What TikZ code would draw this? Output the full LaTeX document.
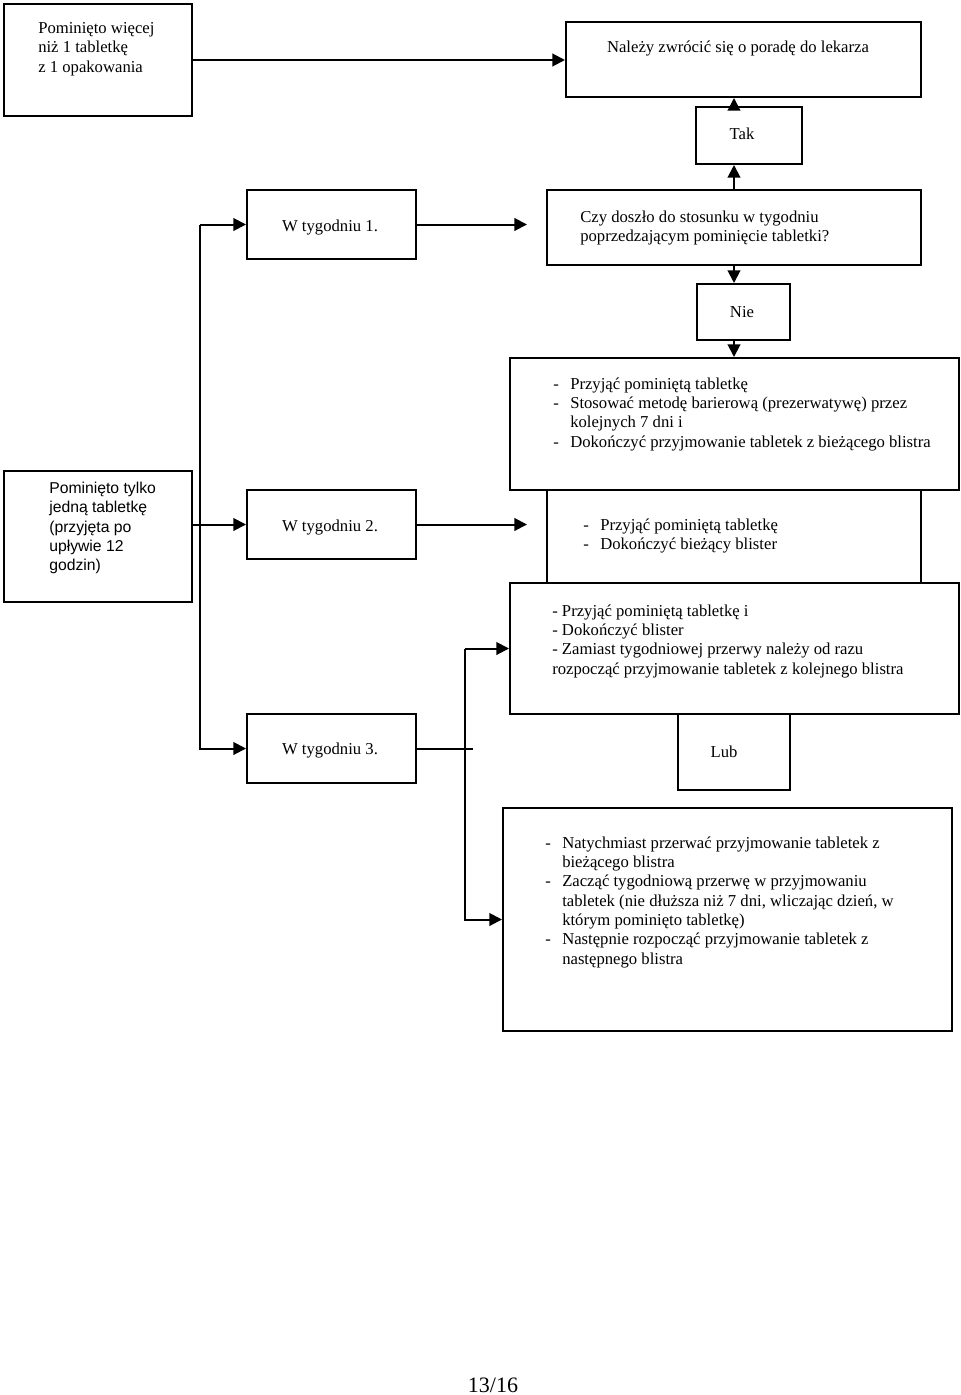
\documentclass[tikz,border=0pt]{standalone}
\usepackage{fontspec}
\setmainfont{Liberation Serif}
\newfontfamily\arialfont{Liberation Sans}
\usetikzlibrary{arrows.meta,fit,calc}

\newcommand{\dsh}{\makebox[12.75pt][l]{-}}
\newcommand{\ind}{\hspace*{12.75pt}}

\tikzset{
  box/.style={draw, line width=1.5pt, inner sep=0pt},
  txt/.style={inner sep=0pt, align=left, font=\fontsize{12.5}{14.5}\selectfont},
  arr/.style={line width=1.5pt, -{Triangle[length=9.5pt,width=9.5pt]}},
  ln/.style={line width=1.5pt}
}

\begin{document}
\begin{tikzpicture}[x=0.75pt,y=-0.75pt]
  \useasboundingbox (0,0) rectangle (960,1395);

  % boxes
  \node[box, fit={(4,4) (192,116)}] (more) {};
  \node[box, fit={(566,22) (921,97)}] (doctor) {};
  \node[box, fit={(696,107) (802,164)}] (tak) {};
  \node[box, fit={(547,190) (921,265)}] (question) {};
  \node[box, fit={(247,190) (416,259)}] (week1) {};
  \node[box, fit={(697,284) (790,340)}] (nie) {};
  \node[box, fit={(510,358) (959,490)}] (barrier) {};
  \node[box, fit={(4,471) (192,602)}] (one) {};
  \node[box, fit={(247,490) (416,559)}] (week2) {};
  \node[box, fit={(547,490) (921,583)}] (finish) {};
  \node[box, fit={(510,583) (959,714)}] (nextblister) {};
  \node[box, fit={(678,714) (790,790)}] (lub) {};
  \node[box, fit={(247,714) (416,783)}] (week3) {};
  \node[box, fit={(503,808) (952,1031)}] (pause) {};

  % texts
  \node[txt, anchor=west] at (38,49) {Pominięto więcej\\niż 1 tabletkę\\z 1 opakowania};
  \node[txt] at (738,49) {Należy zwrócić się o poradę do lekarza};
  \node[txt] at (742,134) {Tak};
  \node[txt, anchor=west] at (580,228) {Czy doszło do stosunku w tygodniu\\poprzedzającym pominięcie tabletki?};
  \node[txt] at (330,228) {W tygodniu 1.};
  \node[txt] at (742,312) {Nie};
  \node[txt, anchor=west] at (553,414) {\dsh Przyjąć pominiętą tabletkę\\
    \dsh Stosować metodę barierową (prezerwatywę) przez\\
    \ind kolejnych 7 dni i\\
    \dsh Dokończyć przyjmowanie tabletek z bieżącego blistra};
  \node[txt, anchor=west, font=\arialfont\fontsize{11.8}{14.5}\selectfont] at (49,528)
    {Pominięto tylko\\jedną tabletkę\\(przyjęta po\\upływie 12\\godzin)};
  \node[txt] at (330,528) {W tygodniu 2.};
  \node[txt, anchor=west] at (583,536) {\dsh Przyjąć pominiętą tabletkę\\\dsh Dokończyć bieżący blister};
  \node[txt, anchor=west] at (552,641) {- Przyjąć pominiętą tabletkę i\\- Dokończyć blister\\
    - Zamiast tygodniowej przerwy należy od razu\\rozpocząć przyjmowanie tabletek z kolejnego blistra};
  \node[txt] at (724,752) {Lub};
  \node[txt] at (330,751) {W tygodniu 3.};
  \node[txt, anchor=west] at (545,902) {\dsh Natychmiast przerwać przyjmowanie tabletek z\\
    \ind bieżącego blistra\\
    \dsh Zacząć tygodniową przerwę w przyjmowaniu\\
    \ind tabletek (nie dłuższa niż 7 dni, wliczając dzień, w\\
    \ind którym pominięto tabletkę)\\
    \dsh Następnie rozpocząć przyjmowanie tabletek z\\
    \ind następnego blistra};
  \node[txt, font=\fontsize{16.5}{18}\selectfont] (page) at (493,1385) {13/16};

  % connectors
  \coordinate (bus) at (200,0);
  \coordinate (gap) at (527,0);
  \coordinate (bus2) at (465,0);
  \coordinate (mid) at (734,0);
  \draw[arr] (more.east) -- (more.east -| doctor.west);
  \draw[arr] (mid |- question.north) -- (mid |- tak.south);
  \draw[arr] (mid |- tak.north) -- (mid |- doctor.south);
  \draw[arr] (mid |- question.south) -- (mid |- nie.north);
  \draw[arr] (mid |- nie.south) -- (mid |- barrier.north);
  \draw[arr] (week1.west -| bus) -- (week1.west);
  \draw[arr] (week1.west -| bus) |- (week3.west);
  \draw[arr] (week2.west -| one.east) -- (week2.west);
  \draw[arr] (week1.east) -- (week1.east -| gap);
  \draw[arr] (week2.east) -- (week2.east -| gap);
  \draw[ln] (week3.east) -- ++(56,0);
  \draw[arr] (nextblister.west -| bus2) -- (nextblister.west);
  \draw[arr] (nextblister.west -| bus2) |- (pause.west);
\end{tikzpicture}
\end{document}
